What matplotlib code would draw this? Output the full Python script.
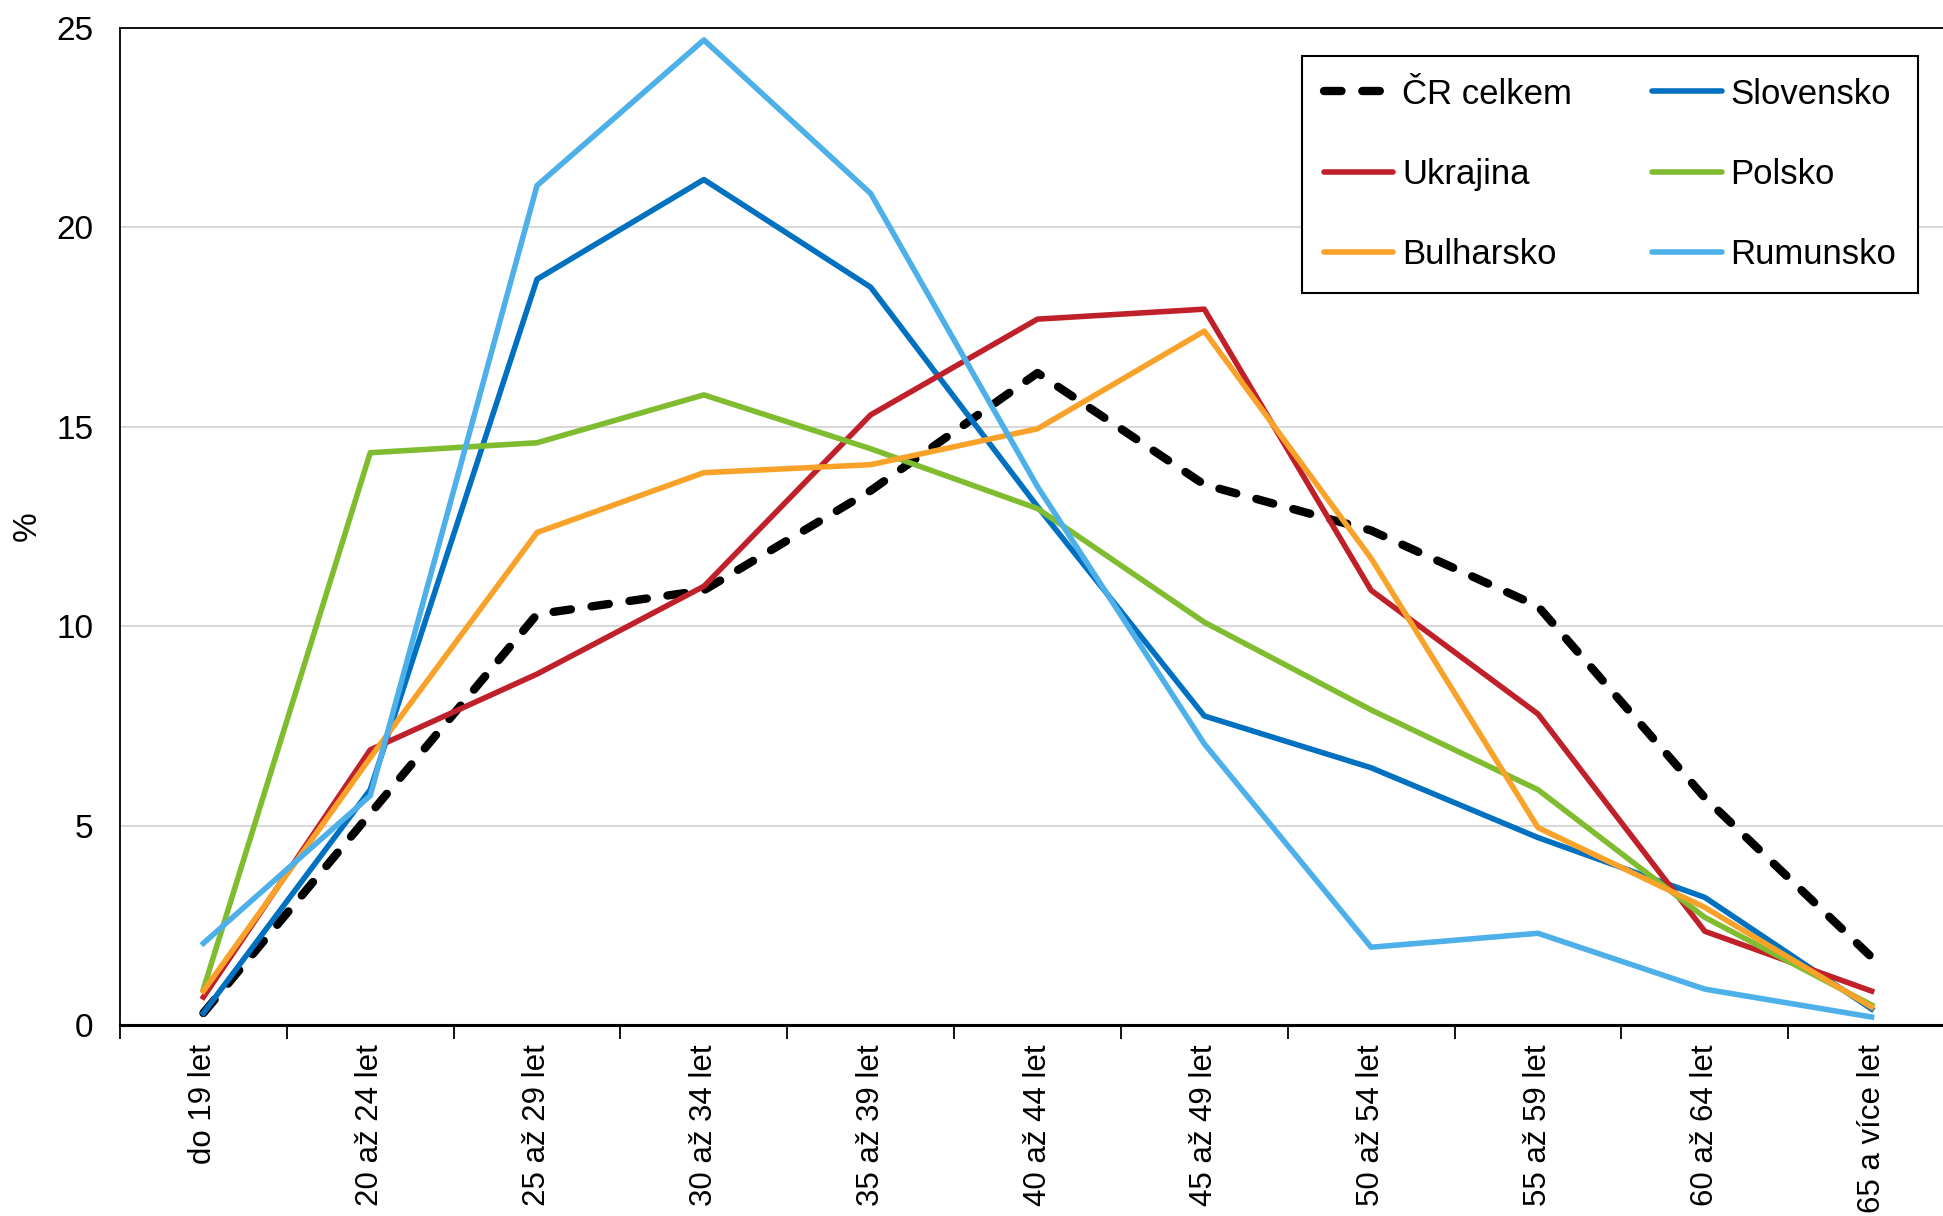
import matplotlib
matplotlib.use('Agg')
import matplotlib.pyplot as plt

plt.rcParams['font.family'] = ['Liberation Sans', 'DejaVu Sans']

# ============================================================
# Data (podíl v %, podle věkových skupin)
# ============================================================
categories = ['do 19 let', '20 až 24 let', '25 až 29 let', '30 až 34 let',
              '35 až 39 let', '40 až 44 let', '45 až 49 let', '50 až 54 let',
              '55 až 59 let', '60 až 64 let', '65 a více let']

cr_celkem = [0.3, 5.3, 10.3, 10.9, 13.4, 16.35, 13.55, 12.4, 10.5, 5.7, 1.7]
slovensko = [0.3, 5.9, 18.7, 21.2, 18.5, 13.0, 7.75, 6.45, 4.7, 3.2, 0.4]
ukrajina = [0.7, 6.9, 8.8, 11.0, 15.3, 17.7, 17.95, 10.9, 7.8, 2.35, 0.85]
polsko = [0.9, 14.35, 14.6, 15.8, 14.45, 12.95, 10.1, 7.9, 5.9, 2.7, 0.5]
bulharsko = [0.85, 6.7, 12.35, 13.85, 14.05, 14.95, 17.4, 11.7, 4.95, 2.95, 0.45]
rumunsko = [2.05, 5.75, 21.05, 24.7, 20.85, 13.5, 7.05, 1.95, 2.3, 0.9, 0.2]

yticks = [0, 5, 10, 15, 20, 25]

W, H = 1943, 1216
fig = plt.figure(figsize=(W / 100, H / 100), dpi=100)
# osa přesahuje pravý okraj (originál je oříznutý)
ax = fig.add_axes([120 / W, (H - 1025) / H, (1955 - 120) / W, (1025 - 28) / H])

x = list(range(len(categories)))
lw = 4.0

h_cr, = ax.plot(x, cr_celkem, color='black', lw=6.0, ls=(0, (2.1, 2.5)),
                dash_capstyle='round', label='ČR celkem', zorder=3)
h_sk, = ax.plot(x, slovensko, color='#0070C0', lw=lw, label='Slovensko', zorder=4)
h_ua, = ax.plot(x, ukrajina, color='#C0202A', lw=lw, label='Ukrajina', zorder=5)
h_pl, = ax.plot(x, polsko, color='#80BC30', lw=lw, label='Polsko', zorder=6)
h_bg, = ax.plot(x, bulharsko, color='#F8A22A', lw=lw, label='Bulharsko', zorder=7)
h_ro, = ax.plot(x, rumunsko, color='#4DB0E8', lw=lw, label='Rumunsko', zorder=8)

ax.set_xlim(-0.5, 10.5)
ax.set_ylim(0, 25)
ax.set_yticks(yticks)
ax.set_yticklabels([str(v) for v in yticks])

# hranice kategorií jako hlavní tiky, popisky uprostřed
ax.set_xticks([i - 0.5 for i in range(len(categories) + 1)])
ax.set_xticklabels([])
ax.set_xticks(x, minor=True)
ax.set_xticklabels(categories, minor=True, rotation=90, va='top', ha='center')
ax.tick_params(axis='x', which='major', direction='out', length=10, width=1.3,
               color='black')
ax.tick_params(axis='x', which='minor', length=0, pad=14, labelsize=22.5)
ax.tick_params(axis='y', length=0, pad=19, labelsize=24)

ax.grid(axis='y', color='#D9D9D9', lw=1.5, zorder=0)
ax.set_axisbelow(True)

for side in ['top', 'left']:
    ax.spines[side].set_linewidth(1.3)
    ax.spines[side].set_color('black')
ax.spines['bottom'].set_linewidth(2.2)

ax.set_ylabel('%', fontsize=24, labelpad=10)

handles = [h_cr, h_ua, h_bg, h_sk, h_pl, h_ro]
leg = ax.legend(handles=handles, ncol=2, loc='upper right',
                bbox_to_anchor=(1918 / W, 1 - 56 / H),
                bbox_transform=fig.transFigure,
                fontsize=25, frameon=True, fancybox=False,
                edgecolor='black', framealpha=1,
                handlelength=2.0, handletextpad=0.26, columnspacing=2.3,
                labelspacing=1.36, borderpad=0.62, borderaxespad=0)
leg.get_frame().set_linewidth(1.5)
for lh in leg.get_lines():
    lh.set_solid_capstyle('round')

fig.savefig('out.png', dpi=100)
